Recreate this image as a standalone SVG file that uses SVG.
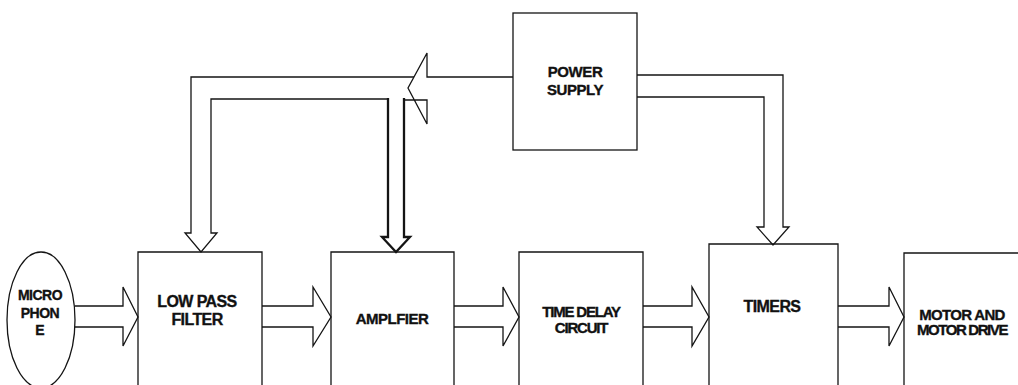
<svg xmlns="http://www.w3.org/2000/svg" width="1018" height="385" viewBox="0 0 1018 385">
<style>
.ln{fill:none;stroke:#141414;stroke-width:1.3;stroke-linejoin:miter}
.bold{fill:none;stroke:#141414;stroke-width:2.3}
.t{font-family:"Liberation Sans",Arial,sans-serif;font-weight:bold;fill:#111;stroke:#111;stroke-width:0.35;text-anchor:middle}
</style>
<rect width="1018" height="385" fill="#fff"/>
<g id="connectors">
<path class="ln" d="M75,306 H123 V287 L138,317 L123,346 V327 H75"/>
<path class="ln" d="M262,306 H313 V287 L331,317 L313,346 V327 H262"/>
<path class="ln" d="M454,306 H503 V287 L519,317 L503,346 V327 H454"/>
<path class="ln" d="M643,306 H692 V287 L709,317 L692,346 V327 H643"/>
<path class="ln" d="M838,306 H889 V287 L904,317 L889,346 V327 H838"/>
<path class="ln" d="M513,77 H427 V53 L408,88 L427,124 V100 H404"/>
<path class="ln" d="M414,77 H191 V233 H185 L201,252 L217,233 H211 V99 H388"/>
<path class="bold" d="M388,98 V237 H382 L396,252 L410,237 H404 V98"/>
<path class="ln" d="M637,75 H783 V227 H789 L773,245 L757,227 H764 V97 H637"/>
</g>
<g id="microphone">
<ellipse class="ln" cx="41" cy="320" rx="34" ry="68"/>
<text class="t" x="40" y="300" font-size="14" letter-spacing="-0.5">MICRO</text>
<text class="t" x="40" y="318" font-size="14" letter-spacing="-0.5">PHON</text>
<text class="t" x="40" y="335" font-size="14">E</text>
</g>
<g id="low-pass-filter">
<path class="ln" d="M138,390 V252 H262 V390"/>
<text class="t" x="197" y="307" font-size="16" letter-spacing="-0.6">LOW PASS</text>
<text class="t" x="197" y="325" font-size="16" letter-spacing="-0.6">FILTER</text>
</g>
<g id="amplifier">
<path class="ln" d="M331,390 V252 H454 V390"/>
<text class="t" x="392" y="324" font-size="15" letter-spacing="-0.5">AMPLFIER</text>
</g>
<g id="time-delay">
<path class="ln" d="M519,390 V252 H643 V390"/>
<text class="t" x="581" y="317" font-size="15" letter-spacing="-1.2">TIME DELAY</text>
<text class="t" x="581" y="333" font-size="15" letter-spacing="-1.2">CIRCUIT</text>
</g>
<g id="timers">
<path class="ln" d="M709,390 V244 H838 V390"/>
<text class="t" x="772" y="312" font-size="16" letter-spacing="-0.6">TIMERS</text>
</g>
<g id="motor">
<path class="ln" d="M904,390 V253 H1020"/>
<text class="t" x="962" y="320" font-size="15" letter-spacing="-0.7">MOTOR AND</text>
<text class="t" x="962" y="335" font-size="15" letter-spacing="-1.4">MOTOR DRIVE</text>
</g>
<g id="power-supply">
<rect class="ln" x="513" y="13" width="124" height="137"/>
<text class="t" x="575" y="77" font-size="15" letter-spacing="-0.4">POWER</text>
<text class="t" x="575" y="95" font-size="15" letter-spacing="-0.4">SUPPLY</text>
</g>
</svg>
